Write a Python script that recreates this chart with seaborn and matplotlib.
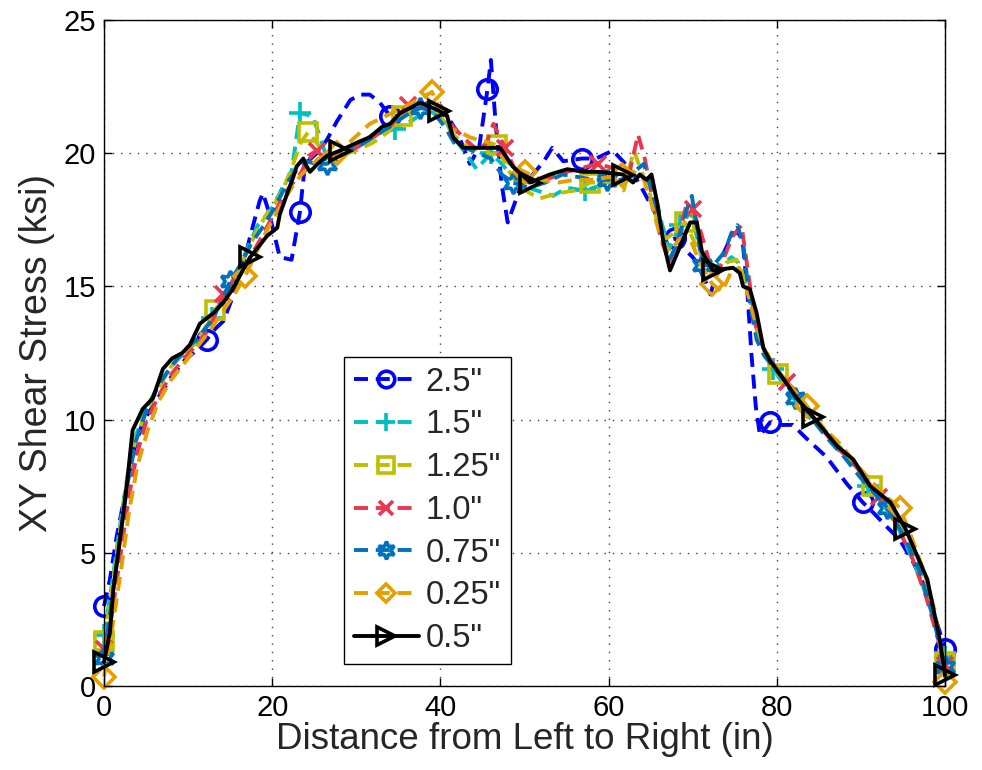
import numpy as np
import matplotlib
matplotlib.use("Agg")
import matplotlib.pyplot as plt
import seaborn as sns
from matplotlib.lines import Line2D

# ---------------- data ----------------
labels = ['2.5"', '1.5"', '1.25"', '1.0"', '0.75"', '0.25"', '0.5"']

x_25 = [0, 0.7, 1.5, 2.5, 3.5, 4.6, 5.8, 7.0, 8.0, 9.5, 11.0, 12.2, 13.2, 14.2, 15.3, 16.3, 17.4, 18.5, 18.9, 19.6,
        20.9, 22.3, 23.3, 23.9, 25.3, 26.5, 27.7, 29.3, 30.5, 31.6, 32.8, 34.0, 35.5, 37.0, 38.5, 40.0, 41.0, 42.0, 43.5, 44.6,
        45.6, 46.0, 46.6, 47.3, 48.0, 49.5, 51.0, 52.3, 53.3, 54.6, 56.8, 58.5, 60.5, 61.7, 63.0, 64.1, 65.8, 66.9, 67.9, 69.0,
        70.0, 70.9, 72.1, 73.3, 74.8, 75.5, 76.0, 76.5, 77.0, 77.5, 78.0, 79.2, 80.5, 81.9, 83.5, 85.9, 88.3, 90.2, 91.5, 93.0,
        94.6, 96.3, 97.9, 99.4, 100]
y_25 = [3.0, 4.0, 5.6, 7.2, 8.8, 9.9, 10.5, 11.1, 11.6, 12.2, 12.6, 13.0, 13.4, 13.7, 14.6, 15.5, 16.9, 18.2, 18.5, 17.8,
        16.1, 16.0, 17.8, 19.6, 20.0, 20.5, 21.2, 22.0, 22.2, 22.2, 21.9, 21.4, 21.4, 21.6, 21.9, 21.5, 21.3, 20.8, 19.6, 20.2,
        22.4, 23.5, 21.0, 18.8, 17.4, 18.7, 19.2, 19.7, 20.2, 19.7, 19.8, 19.8, 20.1, 19.7, 19.2, 18.6, 17.6, 16.7, 16.8, 16.4,
        16.1, 15.7, 14.7, 16.0, 17.0, 17.0, 16.5, 14.8, 12.4, 10.5, 9.4, 9.9, 9.8, 9.8, 9.3, 8.6, 7.6, 6.9, 6.5, 6.0,
        5.5, 4.6, 3.5, 2.0, 1.4]
m_25 = [0, 12.2, 23.3, 34.0, 45.6, 56.8, 67.9, 79.2, 90.2, 100]

x_15 = [0, 0.8, 1.8, 2.8, 3.8, 5.0, 6.5, 8.0, 9.5, 11.0, 12.8, 14.3, 15.8, 17.0, 18.3, 19.4, 20.1, 21.2, 22.3, 23.3,
        24.8, 25.7, 26.5, 28.0, 30.0, 32.0, 34.6, 36.5, 38.3, 40.3, 41.8, 43.0, 44.3, 46.0, 47.3, 48.6, 50.5, 53.4, 55.0, 57.2,
        60.2, 62.5, 64.0, 65.2, 66.2, 67.2, 68.5, 69.8, 71.0, 72.3, 73.5, 74.6, 75.4, 76.2, 77.0, 78.0, 79.6, 81.5, 83.5, 85.5,
        87.5, 89.5, 90.8, 92.5, 94.5, 96.5, 98.0, 99.4, 100]
y_15 = [1.9, 3.5, 5.8, 7.9, 9.4, 10.4, 11.3, 12.0, 12.5, 12.9, 13.8, 14.6, 15.5, 16.4, 17.3, 17.7, 18.0, 18.7, 19.3, 21.5,
        21.4, 20.6, 19.8, 20.0, 20.3, 20.7, 20.9, 21.2, 21.6, 21.4, 20.5, 20.0, 19.4, 20.0, 19.6, 19.1, 18.7, 18.4, 18.7, 18.6,
        18.9, 18.9, 19.2, 19.0, 17.5, 16.4, 17.3, 17.8, 16.2, 15.7, 15.8, 16.1, 15.9, 15.2, 14.3, 13.0, 11.9, 11.0, 10.2, 9.6,
        8.8, 8.2, 7.5, 6.9, 5.9, 4.5, 3.2, 1.6, 1.1]
m_15 = [0, 12.8, 23.3, 34.6, 46.0, 57.2, 68.5, 79.6, 90.8, 100]

x_125 = [0, 0.8, 1.8, 2.8, 3.8, 5.0, 6.5, 8.0, 9.5, 11.0, 13.2, 14.5, 15.8, 17.0, 18.2, 19.5, 20.5, 21.5, 22.5, 23.4,
         24.3, 25.5, 26.5, 28.0, 30.0, 32.0, 33.8, 35.4, 37.0, 38.5, 40.2, 41.5, 43.0, 44.5, 45.8, 46.7, 48.0, 49.5, 51.8, 54.0,
         56.0, 57.8, 60.0, 61.8, 63.0, 63.8, 64.8, 65.8, 66.8, 67.8, 69.1, 70.3, 71.5, 72.8, 74.0, 75.2, 76.0, 77.0, 78.2, 80.1,
         82.0, 84.0, 86.0, 88.0, 89.8, 91.3, 93.0, 95.0, 97.0, 98.5, 99.5, 100]
y_125 = [1.7, 3.3, 5.6, 7.8, 9.3, 10.3, 11.2, 12.0, 12.5, 12.9, 14.1, 14.8, 15.5, 16.3, 17.1, 17.8, 18.2, 18.8, 19.6, 20.4,
         20.8, 20.3, 19.8, 19.9, 20.1, 20.4, 20.8, 21.4, 21.6, 21.8, 21.3, 20.7, 20.3, 20.1, 20.4, 20.3, 19.4, 18.7, 18.3, 18.5,
         18.6, 18.9, 18.9, 18.6, 20.1, 19.4, 18.6, 17.4, 16.8, 17.0, 17.4, 16.6, 15.8, 15.4, 15.9, 16.0, 15.4, 14.3, 12.9, 11.7,
         11.1, 10.3, 9.5, 8.8, 8.1, 7.5, 6.8, 5.9, 4.3, 2.8, 1.5, 0.9]
m_125 = [0, 13.2, 24.3, 35.4, 46.7, 57.8, 69.1, 80.1, 91.3, 100]

x_10 = [0, 0.9, 1.9, 2.9, 3.9, 5.0, 6.5, 8.0, 9.5, 11.0, 12.5, 14.2, 15.5, 17.0, 18.3, 19.5, 20.5, 21.5, 22.5, 23.5,
        24.3, 25.3, 26.5, 28.0, 30.0, 32.0, 34.0, 36.2, 38.0, 40.0, 41.5, 43.0, 44.5, 45.5, 46.3, 47.7, 49.0, 50.5, 52.5, 55.0,
        58.7, 61.0, 62.5, 63.5, 64.3, 65.2, 66.2, 67.2, 68.2, 69.2, 70.0, 71.0, 72.0, 73.0, 74.0, 74.8, 75.8, 76.6, 77.5, 78.5,
        79.8, 81.2, 83.0, 85.0, 87.0, 89.0, 90.5, 92.2, 94.0, 96.0, 97.8, 99.3, 100]
y_10 = [1.4, 2.6, 4.8, 7.0, 8.7, 9.9, 10.9, 11.7, 12.3, 12.8, 13.4, 14.7, 15.3, 15.9, 16.6, 17.3, 17.9, 18.5, 18.9, 19.3,
        19.9, 20.1, 19.9, 20.0, 20.2, 20.6, 21.0, 21.8, 21.7, 21.8, 21.0, 20.5, 20.1, 20.4, 21.1, 20.2, 19.3, 18.9, 19.0, 19.3,
        19.6, 19.4, 19.3, 20.7, 19.8, 18.3, 16.8, 15.9, 16.7, 18.0, 17.9, 17.0, 15.9, 15.5, 16.3, 16.9, 17.3, 15.5, 13.5, 12.6,
        12.0, 11.4, 10.7, 9.8, 9.0, 8.4, 7.8, 7.1, 6.2, 4.9, 3.3, 1.6, 0.8]
m_10 = [0, 14.2, 25.3, 36.2, 47.7, 58.7, 70.0, 81.2, 92.2, 100]

x_075 = [0, 0.8, 1.8, 2.8, 3.8, 5.0, 6.5, 8.0, 9.5, 11.0, 12.5, 13.8, 15.0, 16.2, 17.5, 18.8, 20.0, 21.0, 22.0, 23.0,
         24.0, 25.2, 26.5, 28.0, 30.0, 32.0, 34.0, 35.8, 37.6, 39.0, 40.5, 41.8, 43.0, 44.5, 46.0, 47.3, 48.6, 50.5, 52.5, 54.5,
         56.5, 58.3, 59.8, 61.5, 63.0, 64.2, 65.2, 66.2, 67.2, 68.2, 69.2, 69.9, 70.6, 71.1, 72.5, 73.8, 74.6, 75.3, 76.0, 76.8,
         77.6, 78.5, 79.5, 80.8, 82.2, 84.0, 86.0, 88.0, 90.0, 91.7, 93.1, 95.0, 97.0, 98.6, 99.6, 100]
y_075 = [1.05, 2.9, 5.3, 7.6, 9.2, 10.3, 11.3, 12.0, 12.6, 13.0, 13.6, 14.3, 15.2, 15.8, 16.6, 17.2, 17.8, 18.4, 19.0, 19.4,
         19.7, 19.6, 19.6, 19.9, 20.2, 20.6, 21.0, 21.4, 21.7, 21.6, 21.0, 20.3, 20.2, 20.0, 19.8, 19.2, 18.9, 18.7, 18.9, 19.2,
         19.1, 19.0, 19.0, 19.0, 19.3, 19.6, 18.5, 17.0, 16.0, 16.6, 17.8, 18.4, 17.0, 15.8, 15.8, 16.3, 17.0, 17.3, 16.6, 14.4,
         13.0, 12.4, 12.0, 11.5, 10.8, 10.1, 9.3, 8.6, 7.8, 7.2, 6.7, 5.7, 4.3, 2.6, 1.2, 0.7]
m_075 = [0, 15.0, 26.5, 37.6, 48.6, 59.8, 71.1, 82.2, 93.1, 100]

x_025 = [0, 0.9, 2.0, 3.0, 4.0, 5.2, 6.5, 8.0, 9.5, 11.0, 12.5, 14.0, 15.5, 16.8, 18.0, 19.2, 20.4, 21.5, 22.5, 23.5,
         24.5, 25.5, 26.5, 27.7, 29.5, 31.6, 33.5, 35.5, 37.3, 39.0, 40.3, 41.3, 42.3, 43.5, 44.5, 45.8, 47.0, 48.2, 50.0, 52.0,
         54.0, 56.0, 58.0, 60.0, 61.6, 63.0, 64.2, 65.2, 66.2, 67.3, 68.5, 69.8, 71.0, 72.3, 73.5, 74.5, 75.5, 76.5, 77.5, 78.5,
         79.5, 81.0, 82.3, 83.6, 85.5, 87.5, 89.5, 91.5, 93.0, 94.6, 96.0, 97.5, 98.8, 99.6, 100]
y_025 = [0.35, 2.0, 4.3, 6.6, 8.3, 9.6, 10.7, 11.5, 12.1, 12.7, 13.3, 14.0, 14.7, 15.4, 16.2, 17.0, 17.7, 18.3, 18.8, 19.2,
         19.5, 19.8, 19.9, 20.0, 20.5, 21.1, 21.4, 21.7, 22.0, 22.3, 21.4, 20.9, 20.8, 20.6, 20.5, 20.4, 20.0, 19.6, 19.3, 19.0,
         18.9, 19.0, 19.0, 19.1, 19.2, 19.3, 19.0, 18.0, 16.8, 16.3, 16.8, 16.7, 15.8, 15.1, 14.8, 15.5, 15.7, 14.8, 13.6, 12.6,
         12.1, 11.5, 11.0, 10.5, 9.7, 9.1, 8.3, 7.6, 7.1, 6.7, 5.6, 4.3, 2.8, 1.2, 0.15]
m_025 = [0, 16.8, 27.7, 39.0, 50.0, 61.6, 72.3, 83.6, 94.6, 100]

x_05 = [0, 0.7, 1.1, 1.9, 2.7, 3.4, 4.6, 5.8, 7.0, 8.1, 9.3, 10.2, 11.4, 13.0, 14.2, 15.3, 16.5, 17.4, 19.4, 20.6,
        20.9, 21.8, 22.5, 22.9, 23.7, 24.1, 24.5, 25.4, 26.5, 28.1, 30.1, 31.6, 33.1, 34.0, 35.2, 37.6, 39.8, 40.8, 41.5, 42.7,
        45.1, 47.1, 48.6, 50.7, 53.0, 55.1, 57.0, 59.0, 61.7, 62.9, 63.7, 64.5, 65.1, 65.8, 66.5, 67.3, 68.5, 69.7, 70.5, 71.1,
        72.4, 74.8, 75.6, 76.0, 76.8, 77.6, 78.4, 79.2, 80.4, 82.4, 84.3, 87.2, 89.1, 91.1, 93.5, 95.3, 97.9, 99.4, 100]
y_05 = [0.9, 2.0, 3.6, 5.5, 7.5, 9.6, 10.4, 10.8, 11.9, 12.3, 12.5, 12.8, 13.6, 14.0, 14.4, 14.9, 15.6, 16.1, 16.9, 17.2,
        17.7, 18.5, 19.1, 19.5, 19.8, 19.5, 19.3, 19.6, 19.9, 20.1, 20.4, 20.6, 21.0, 21.1, 21.5, 21.9, 21.6, 21.4, 20.6, 20.2,
        20.2, 20.2, 19.5, 18.9, 19.2, 19.4, 19.3, 19.3, 19.2, 18.9, 19.2, 19.0, 19.2, 18.1, 16.7, 15.6, 16.5, 17.4, 17.4, 16.3,
        15.6, 15.7, 15.5, 15.0, 14.9, 14.0, 12.7, 12.2, 11.7, 10.8, 10.1, 9.0, 8.5, 7.5, 6.9, 5.9, 4.0, 1.7, 0.4]
m_05 = [0, 17.4, 28.1, 39.8, 50.7, 61.7, 72.4, 84.3, 95.3, 100]

x_ticks = [0, 20, 40, 60, 80, 100]
y_ticks = [0, 5, 10, 15, 20, 25]

# ---------------- styling ----------------
sns.set_style("ticks")
plt.rcParams['font.family'] = ['Liberation Sans', 'DejaVu Sans']

DASH = (0, (3.6, 2.0))
series = [
    (x_25, y_25, m_25, '#0000FF', 'o', DASH, 14),
    (x_15, y_15, m_15, '#00BFBF', '+', DASH, 16),
    (x_125, y_125, m_125, '#BFBF00', 's', DASH, 13),
    (x_10, y_10, m_10, '#E8384F', 'x', DASH, 12),
    (x_075, y_075, m_075, '#0072BD', (6, 1, 0), DASH, 15),
    (x_025, y_025, m_025, '#E69F00', 'D', DASH, 11),
    (x_05, y_05, m_05, '#000000', '>', '-', 15),
]

fig = plt.figure(figsize=(9.82, 7.7), dpi=100)
ax = fig.add_axes([104 / 982, 1 - 686 / 770, (945 - 104) / 982, (686 - 20) / 770])

LW = 2.8
handles = []
for (xs, ys, ms, col, mk, ls, msize), lab in zip(series, labels):
    xs_a = np.asarray(xs, float)
    idx = [int(np.argmin(np.abs(xs_a - m))) for m in ms]
    sns.lineplot(x=xs, y=ys, ax=ax, color=col, linewidth=LW, linestyle=ls,
                 marker=mk, markevery=idx, markersize=msize, markeredgewidth=2.6,
                 markeredgecolor=col, markerfacecolor='none', errorbar=None,
                 sort=False, legend=False, clip_on=False)
    handles.append(Line2D([], [], color=col, linewidth=LW, linestyle=ls, marker=mk,
                          markersize=msize * 0.85, markeredgewidth=2.6, markeredgecolor=col,
                          markerfacecolor='none', label=lab))

ax.set_xlim(0, 100)
ax.set_ylim(0, 25)
ax.set_xticks(x_ticks)
ax.set_yticks(y_ticks)
ax.tick_params(direction='in', top=True, right=True, length=6, width=1,
               labelsize=21, colors='black', pad=6)
ax.grid(True, color='0.25', linestyle=(0, (1, 5)), linewidth=1)
for s in ax.spines.values():
    s.set_visible(True)
    s.set_color('black')
    s.set_linewidth(1)

ax.set_xlabel('Distance from Left to Right (in)', fontsize=26.5, labelpad=0)
ax.set_ylabel('XY Shear Stress (ksi)', fontsize=27, labelpad=6)

leg = ax.legend(handles=handles, loc='lower left', bbox_to_anchor=(0.2854, 0.033),
                fontsize=23.5, frameon=True, fancybox=False, edgecolor='black',
                framealpha=1, borderaxespad=0, handlelength=2.0, handletextpad=0.2,
                labelspacing=0.36, borderpad=0.3)
leg.get_frame().set_linewidth(1)
leg.set_zorder(10)

fig.savefig('out.png', dpi=100)
